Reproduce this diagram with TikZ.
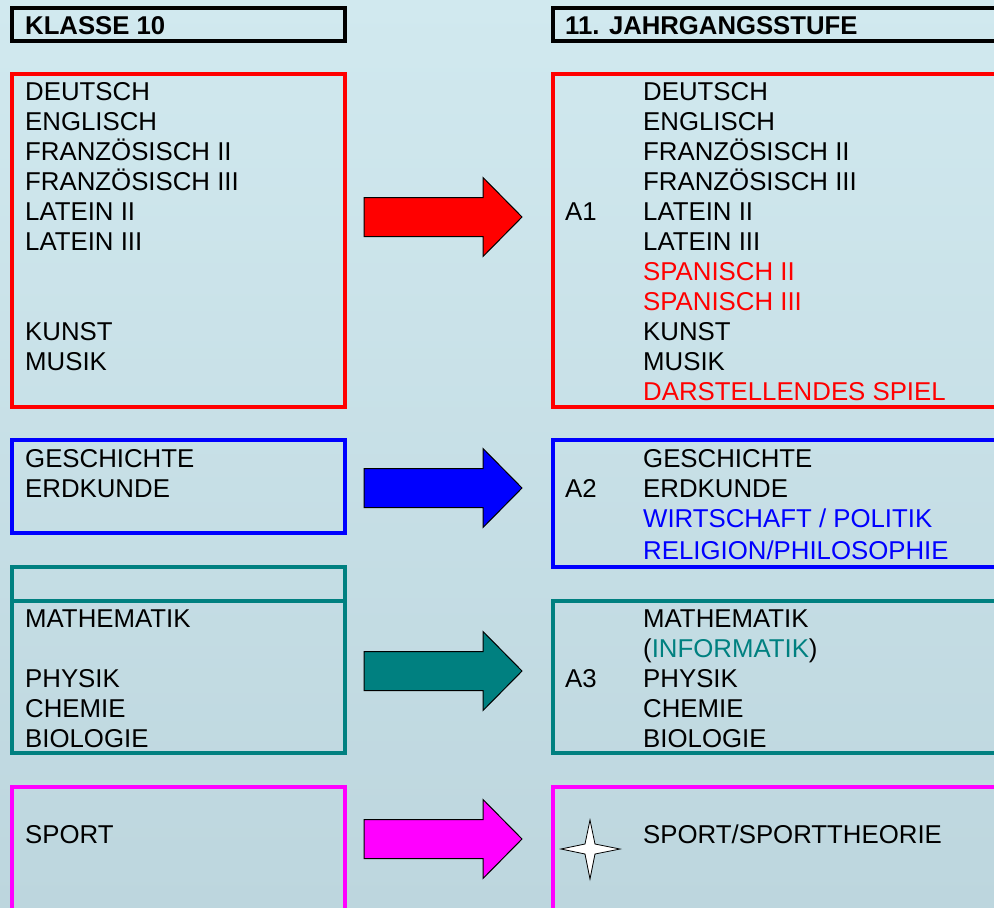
\documentclass[tikz,border=0pt]{standalone}
\usepackage{fontspec}
\setmainfont{Liberation Sans}
\usetikzlibrary{positioning}

\definecolor{bgtop}{RGB}{209,233,239}
\definecolor{bgbottom}{RGB}{189,214,222}
\definecolor{redbox}{RGB}{255,0,0}
\definecolor{bluebox}{RGB}{0,0,255}
\definecolor{tealbox}{RGB}{0,128,128}
\definecolor{pinkbox}{RGB}{255,0,255}

\tikzset{
  subj/.style={anchor=base west, inner sep=0pt, font=\fontsize{25.8}{30}\selectfont},
  head/.style={subj, font=\bfseries\fontsize{25.7}{30}\selectfont},
  framebox/.style={line width=3.5pt},
  blockarrow/.style={draw=black, line width=1pt, line join=miter}
}

%% block arrow centred at height #1, filled with #2
\newcommand{\subjarrow}[2]{%
  \draw[blockarrow, fill=#2] (364,#1-19.5) -- (483,#1-19.5) -- (483,#1-39.5)
    -- (522,#1) -- (483,#1+39.5) -- (483,#1+19.5) -- (364,#1+19.5) -- cycle;}

\begin{document}
\begin{tikzpicture}[x=1pt,y=-1pt]
    %% background
    \shade[top color=bgtop, bottom color=bgbottom] (0,0) rectangle (994,908);
    \useasboundingbox (0,0) rectangle (994,908);

    %% headers
    \draw[framebox] (12,8) rectangle (345,41);
    \draw[framebox] (553,8) rectangle (1010,41);
    \node[head] (klasse) at (25,34) {KLASSE 10};
    \node[head] (jahrgang) at (565,34) {11. JAHRGANGSSTUFE};

    %% A1 -- languages and arts
    \draw[framebox, redbox] (12,74) rectangle (345,407);
    \draw[framebox, redbox] (553,74) rectangle (1010,407);
    \foreach \txt [count=\i from 0] in {DEUTSCH,ENGLISCH,FRANZÖSISCH II,FRANZÖSISCH III,LATEIN II,LATEIN III}
        \node[subj] (kl-a-\i) at (25,{100+30*\i}) {\txt};
    \node[subj] (kl-kunst) at (25,340) {KUNST};
    \node[subj] (kl-musik) at (25,370) {MUSIK};
    \foreach \txt/\col [count=\i from 0] in {DEUTSCH/black,ENGLISCH/black,FRANZÖSISCH II/black,
        FRANZÖSISCH III/black,LATEIN II/black,LATEIN III/black,SPANISCH II/redbox,SPANISCH III/redbox,
        KUNST/black,MUSIK/black,DARSTELLENDES SPIEL/redbox}
        \node[subj, text=\col] (js-a-\i) at (643,{100+30*\i}) {\txt};
    \node[subj] (a1) at (565,220) {A1};
    \subjarrow{217}{redbox}

    %% A2 -- social sciences
    \draw[framebox, bluebox] (12,440) rectangle (345,533);
    \draw[framebox, bluebox] (553,440) rectangle (1010,567);
    \node[subj] (kl-ge) at (25,467) {GESCHICHTE};
    \node[subj] (kl-ek) at (25,497) {ERDKUNDE};
    \node[subj] (js-ge) at (643,467) {GESCHICHTE};
    \node[subj] (js-ek) at (643,497) {ERDKUNDE};
    \node[subj, text=bluebox] (js-wp) at (643,527) {WIRTSCHAFT / POLITIK};
    \node[subj, text=bluebox] (js-rp) at (643,559) {RELIGION/PHILOSOPHIE};
    \node[subj] (a2) at (565,497) {A2};
    \subjarrow{488}{bluebox}

    %% A3 -- sciences
    \draw[framebox, tealbox] (12,567) rectangle (345,753);
    \draw[framebox, tealbox] (12,601) -- (345,601);
    \draw[framebox, tealbox] (553,601) rectangle (1010,753);
    \node[subj] (kl-ma) at (25,627) {MATHEMATIK};
    \foreach \txt [count=\i from 0] in {PHYSIK,CHEMIE,BIOLOGIE}
        \node[subj] (kl-n-\i) at (25,{687+30*\i}) {\txt};
    \node[subj] (js-ma) at (643,627) {MATHEMATIK};
    \node[subj] (js-if) at (643,657) {(\textcolor{tealbox}{INFORMATIK})};
    \foreach \txt [count=\i from 0] in {PHYSIK,CHEMIE,BIOLOGIE}
        \node[subj] (js-n-\i) at (643,{687+30*\i}) {\txt};
    \node[subj] (a3) at (565,687) {A3};
    \subjarrow{671}{tealbox}

    %% sport
    \draw[framebox, pinkbox] (12,787) rectangle (345,930);
    \draw[framebox, pinkbox] (553,787) rectangle (1010,930);
    \node[subj] (kl-sp) at (25,843) {SPORT};
    \node[subj] (js-sp) at (643,843) {SPORT/SPORTTHEORIE};
    \subjarrow{839}{pinkbox}
    %% star
    \draw[fill=white, line width=0.8pt, line join=miter] (590,820) -- (595,844) -- (620,849)
        -- (595,854) -- (590,879) -- (585,854) -- (561,849) -- (585,844) -- cycle;
\end{tikzpicture}
\end{document}
